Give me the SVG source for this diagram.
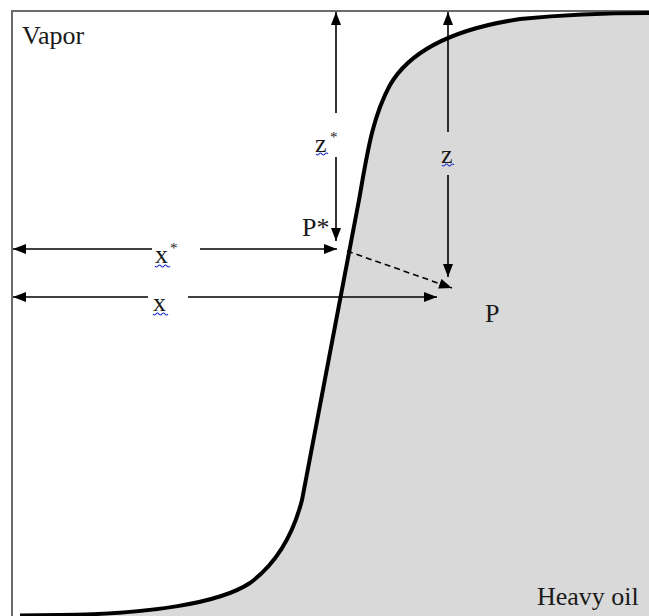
<svg xmlns="http://www.w3.org/2000/svg" width="649" height="616" viewBox="0 0 649 616">
<defs>
<style>
.lbl{font-family:"Liberation Serif","Times New Roman",serif;font-size:26px;fill:#1a1a1a}
.sup{font-family:"Liberation Serif","Times New Roman",serif;font-size:15px;fill:#1a1a1a}
.ln{stroke:#000;stroke-width:1.6;fill:none}
.sq{stroke:#2233cc;stroke-width:1.2;fill:none}
</style>
<marker id="ah" viewBox="0 0 13 10" refX="13" refY="5" markerWidth="13" markerHeight="10" markerUnits="userSpaceOnUse" orient="auto">
<path d="M0,0 L13,5 L0,10 Z" fill="#000"/>
</marker>
</defs>
<rect x="0" y="0" width="649" height="616" fill="#fff"/>
<g id="heavy-oil-region">
<path d="M 30 616 L 60 615 C 150 614, 220 603, 250 583 C 277 563, 293 535, 302 500 L 359 200 C 367 155, 372 118, 390 85 C 412 47, 460 28, 520 19 C 570 14, 610 13, 649 13 L 649 616 Z" fill="#d9d9d9"/>
</g>
<g id="frame">
<path d="M 12 616 L 12 11 L 649 11" fill="none" stroke="#6b6b6b" stroke-width="2"/>
</g>
<g id="interface">
<path d="M 20 615.5 L 60 615 C 150 614, 220 603, 250 583 C 277 563, 293 535, 302 500 L 359 200 C 367 155, 372 118, 390 85 C 412 47, 460 28, 520 19 C 570 14, 610 13, 649 13" fill="none" stroke="#000" stroke-width="4"/>
</g>
<g id="connectors">
<line class="ln" x1="336" y1="113" x2="336" y2="12" marker-end="url(#ah)"/>
<line class="ln" x1="336" y1="157" x2="336" y2="241" marker-end="url(#ah)"/>
<line class="ln" x1="448" y1="132" x2="448" y2="12" marker-end="url(#ah)"/>
<line class="ln" x1="448" y1="175" x2="448" y2="277" marker-end="url(#ah)"/>
<line class="ln" x1="152" y1="249" x2="13" y2="249" marker-end="url(#ah)"/>
<line class="ln" x1="200" y1="249" x2="337" y2="249" marker-end="url(#ah)"/>
<line class="ln" x1="148" y1="297" x2="13" y2="297" marker-end="url(#ah)"/>
<line class="ln" x1="188" y1="297" x2="437" y2="297" marker-end="url(#ah)"/>
<line class="ln" x1="347" y1="251" x2="452" y2="288" stroke-dasharray="6 4" marker-end="url(#ah)"/>
</g>
<g id="labels">
<text class="lbl" x="22" y="44">Vapor</text>
<text class="lbl" x="537" y="605">Heavy oil</text>
<text class="lbl" x="302" y="236">P*</text>
<text class="lbl" x="485" y="322">P</text>
<text class="lbl" x="315" y="152">z</text><text class="sup" x="330" y="142">*</text>
<text class="lbl" x="441" y="163">z</text>
<text class="lbl" x="155" y="263">x</text><text class="sup" x="170" y="253">*</text>
<text class="lbl" x="153" y="311">x</text>
<path class="sq" d="M316 154 q1.5 2 3 0 t3 0 t3 0 t3 0"/>
<path class="sq" d="M442 165 q1.5 2 3 0 t3 0 t3 0 t3 0"/>
<path class="sq" d="M155 266 q1.5 2 3 0 t3 0 t3 0 t3 0 t3 0"/>
<path class="sq" d="M153 314 q1.5 2 3 0 t3 0 t3 0 t3 0 t3 0"/>
</g>
</svg>
